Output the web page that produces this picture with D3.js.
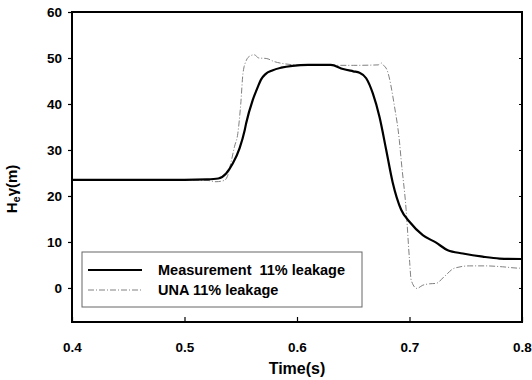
<!DOCTYPE html>
<meta charset="utf-8">
<script src="https://d3js.org/d3.v7.min.js"></script>
<style>
  body { margin: 0; background: #fff; }
  text { font-family: "Liberation Sans", Arial, sans-serif; font-weight: bold; white-space: pre; }
</style>
<svg id="chart" width="532" height="380"></svg>
<script>
// data
var measT = [0.40, 0.45, 0.50, 0.52, 0.53, 0.537, 0.543, 0.549, 0.5535, 0.5548, 0.5607, 0.565, 0.568, 0.572, 0.578, 0.586, 0.596, 0.61, 0.62, 0.63, 0.641, 0.650, 0.6556, 0.6615, 0.6674, 0.6733, 0.6793, 0.685, 0.6926, 0.700, 0.7118, 0.7237, 0.734, 0.7474, 0.765, 0.78, 0.80];
var measV = [23.5, 23.5, 23.5, 23.6, 23.8, 24.9, 27.1, 30.4, 34.3, 35.8, 40.9, 43.6, 45.3, 46.5, 47.3, 47.9, 48.3, 48.5, 48.5, 48.5, 47.6, 47.1, 46.8, 45.6, 42.3, 37.2, 30.0, 23.0, 17.0, 14.4, 11.5, 9.85, 8.2, 7.5, 6.8, 6.4, 6.3];

var unaT = [0.40, 0.50, 0.52, 0.528, 0.5356, 0.538, 0.5415, 0.5444, 0.5474, 0.550, 0.552, 0.555, 0.558, 0.562, 0.566, 0.5726, 0.580, 0.590, 0.60, 0.65, 0.672, 0.675, 0.677, 0.680, 0.6867, 0.691, 0.6926, 0.697, 0.700, 0.7015, 0.7065, 0.7118, 0.7178, 0.7237, 0.731, 0.74, 0.7533, 0.768, 0.7828, 0.798, 0.80];
var unaV = [23.5, 23.5, 23.4, 23.1, 23.4, 24.2, 27.5, 30.7, 33.6, 40.0, 46.7, 49.5, 50.4, 50.7, 50.0, 49.9, 49.2, 48.7, 48.5, 48.4, 48.5, 48.9, 48.4, 47.4, 39.4, 32.0, 27.8, 17.0, 6.1, 1.7, -0.1, 0.6, 0.9, 1.0, 2.5, 4.3, 4.8, 4.8, 4.6, 4.3, 4.3];

var xTicks = [0.4, 0.5, 0.6, 0.7, 0.8];
var yTicks = [0, 10, 20, 30, 40, 50, 60];
var legendLabels = ["Measurement  11% leakage", "UNA 11% leakage"];

var svg = d3.select("#chart");
var mLeft = 72, mRight = 522, mTop = 12, mBottom = 322;

var x = d3.scaleLinear().domain([0.4, 0.8]).range([mLeft, mRight]);
var y = d3.scaleLinear().domain([-7.4, 60]).range([mBottom, mTop]);

// bottom axis, ticks pointing in
var gx = svg.append("g").attr("transform", "translate(0," + mBottom + ")")
  .call(d3.axisBottom(x).tickValues(xTicks).tickSizeInner(-5).tickSizeOuter(0).tickPadding(20)
    .tickFormat(d3.format(".1f")));
gx.selectAll("text").style("font-size", "13.5px").attr("fill", "#000");

// left axis, ticks pointing out
var gy = svg.append("g").attr("transform", "translate(" + mLeft + ",0)")
  .call(d3.axisLeft(y).tickValues(yTicks).tickSizeInner(4).tickSizeOuter(0).tickPadding(6));
gy.selectAll("text").style("font-size", "13.5px").attr("fill", "#000");
svg.selectAll(".domain").remove();
svg.selectAll(".tick line").attr("stroke", "#000").attr("stroke-width", 1.2);

// right axis small inward ticks
svg.append("g").attr("transform", "translate(" + mRight + ",0)")
  .call(d3.axisRight(y).tickValues(yTicks).tickSizeInner(-3).tickSizeOuter(0).tickFormat(""))
  .call(function(g) { g.select(".domain").remove(); });

// frame
svg.append("rect")
  .attr("x", mLeft).attr("y", mTop)
  .attr("width", mRight - mLeft).attr("height", mBottom - mTop)
  .attr("fill", "none").attr("stroke", "#000").attr("stroke-width", 2);

var line = d3.line().curve(d3.curveMonotoneX)
  .x(function(d) { return x(d[0]); })
  .y(function(d) { return y(d[1]); });

svg.append("path")
  .attr("d", line(d3.zip(unaT, unaV)))
  .attr("fill", "none").attr("stroke", "#808080").attr("stroke-width", 1)
  .attr("stroke-dasharray", "6,2,1,2");

svg.append("path")
  .attr("d", line(d3.zip(measT, measV)))
  .attr("fill", "none").attr("stroke", "#000").attr("stroke-width", 2.2);

// legend
var lg = svg.append("g");
lg.append("rect").attr("x", 82).attr("y", 252).attr("width", 280).attr("height", 55)
  .attr("fill", "#fff").attr("stroke", "#666").attr("stroke-width", 1);
lg.append("line").attr("x1", 88).attr("x2", 142).attr("y1", 270).attr("y2", 270)
  .attr("stroke", "#000").attr("stroke-width", 2);
lg.append("line").attr("x1", 88).attr("x2", 142).attr("y1", 290).attr("y2", 290)
  .attr("stroke", "#808080").attr("stroke-width", 1).attr("stroke-dasharray", "6,2,1,2");
lg.selectAll("text.lab").data(legendLabels).enter().append("text")
  .attr("class", "lab")
  .attr("x", 158).attr("y", function(d, i) { return 275 + i * 20; })
  .style("font-size", "14.5px").text(function(d) { return d; });

// axis titles
svg.append("text").attr("x", (mLeft + mRight) / 2).attr("y", 374)
  .attr("text-anchor", "middle").style("font-size", "16px").text("Time(s)");

var yt = svg.append("text").attr("transform", "translate(17,189) rotate(-90)")
  .attr("text-anchor", "middle").style("font-size", "15px");
yt.append("tspan").text("H");
yt.append("tspan").attr("dy", 3).style("font-size", "11px").text("e");
yt.append("tspan").attr("dy", -3).text("γ(m)");
</script>
